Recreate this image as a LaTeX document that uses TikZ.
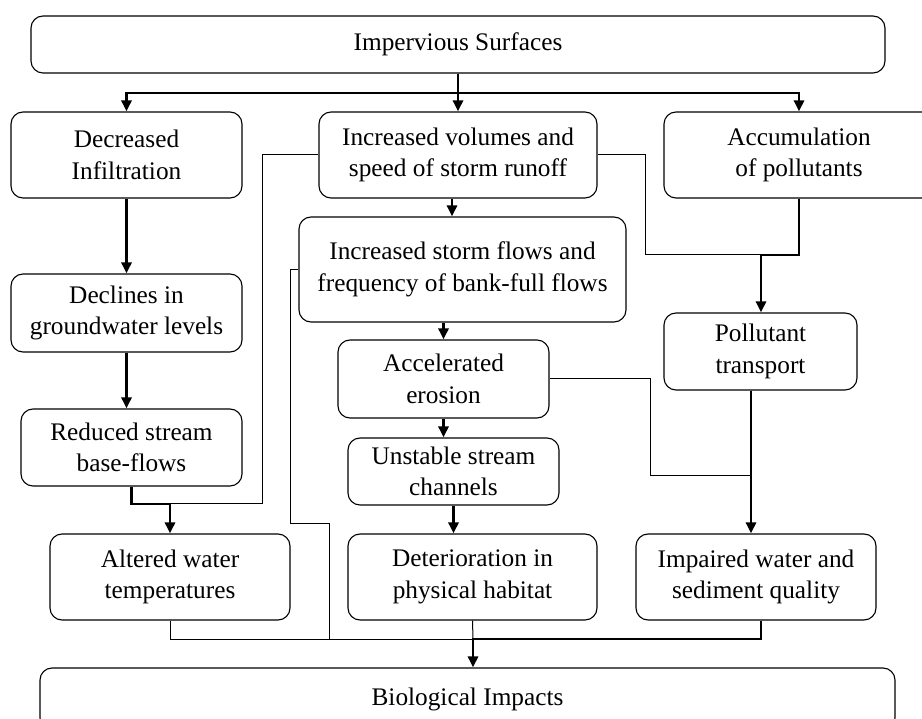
\documentclass[tikz,border=0pt]{standalone}
\usepackage{fontspec}
\setmainfont{Liberation Serif}
\usetikzlibrary{arrows.meta,calc}
\tikzset{
  box/.style={draw, line width=1.1pt, rounded corners=12pt, align=center, inner sep=0pt,
    font=\fontsize{25.3}{31.5}\selectfont},
  thk/.style={line width=2.6pt},
  thn/.style={line width=1pt},
  arr/.style={thk, -{Triangle[length=11pt,width=10pt]}},
}
\begin{document}
\begin{tikzpicture}[x=1pt,y=-1pt]
\useasboundingbox (0,0) rectangle (922,719);
\clip (0,0) rectangle (922,719);
% nodes
\node[box, minimum width=854pt, minimum height=57pt] (top) at (458,44.5) {Impervious Surfaces};
\node[box, minimum width=231pt, minimum height=86pt] (dec) at (126.5,155) {Decreased\\Infiltration};
\node[box, minimum width=278pt, minimum height=86pt] (vol) at (458,155) {Increased volumes and\\speed of storm runoff};
\node[box, minimum width=270pt, minimum height=86pt] (acc) at (799,155) {Accumulation\\of pollutants};
\node[box, minimum width=231pt, minimum height=78pt] (decl) at (126.5,313) {Declines in\\groundwater levels};
\node[box, minimum width=327pt, minimum height=105pt] (storm) at (462.5,269.5) {Increased storm flows and\\frequency of bank-full flows};
\node[box, minimum width=193pt, minimum height=77pt] (pol) at (760.5,351.5) {Pollutant\\transport};
\node[box, minimum width=221pt, minimum height=77pt] (red) at (131.5,447.5) {Reduced stream\\base-flows};
\node[box, minimum width=211pt, minimum height=78pt] (ero) at (443.5,379) {Accelerated\\erosion};
\node[box, minimum width=211pt, minimum height=67pt] (uns) at (453.5,471.5) {Unstable stream\\channels};
\node[box, minimum width=240pt, minimum height=86pt] (alt) at (170,577) {Altered water\\temperatures};
\node[box, minimum width=249pt, minimum height=86pt] (det) at (472.5,577) {Deterioration in\\physical habitat};
\node[box, minimum width=240pt, minimum height=86pt] (imp) at (756,577) {Impaired water and\\sediment quality};
\node[box, minimum width=855pt, minimum height=62pt] (bio) at (467.5,699) {Biological Impacts};
% junction coordinates
\coordinate (j1) at (458,93);
\coordinate (j2) at (170,504);
\coordinate (k1) at (262,504);
\coordinate (v1) at ($(vol.south)+(-6,0)$);
\coordinate (k2) at (290,523);
\coordinate (k3) at (329,639);
\coordinate (k4) at (645,255);
\coordinate (j3) at (761,255);
\coordinate (k5) at (650,476);
\coordinate (j4) at (751,476);
\coordinate (j5) at (473,639);
\coordinate (i1) at ($(imp.south)+(5,0)$);
% thin connectors
\draw[thn] (vol.west) -| (k1) -- (j2);
\draw[thn] (storm.west) -| (k2) -| (k3);
\draw[thn] (vol.east) -| (k4) -- (j3);
\draw[thn] (ero.east) -| (k5) -- (j4);
\draw[thn] (alt.south) |- (j5);
\draw[thn] (det.south) -- (j5);
% thick connectors
\draw[arr] (top.south) -- (j1) -| (dec.north);
\draw[arr] (j1) -- (vol.north);
\draw[arr] (j1) -| (acc.north);
\draw[arr] (dec.south) -- (decl.north);
\draw[arr] (decl.south) -- (decl.south |- red.north);
\draw[arr] (red.south) |- (j2) -- (alt.north);
\draw[arr] (v1) -- (v1 |- storm.north);
\draw[arr] (acc.south) |- (j3) -- (j3 |- pol.north);
\draw[arr] (ero.north |- storm.south) -- (ero.north);
\draw[arr] (j4 |- pol.south) -- (j4 |- imp.north);
\draw[arr] (ero.south) -- (ero.south |- uns.north);
\draw[arr] (uns.south) -- (uns.south |- det.north);
\draw[arr] (i1) |- (j5) -- (j5 |- bio.north);
\end{tikzpicture}
\end{document}
